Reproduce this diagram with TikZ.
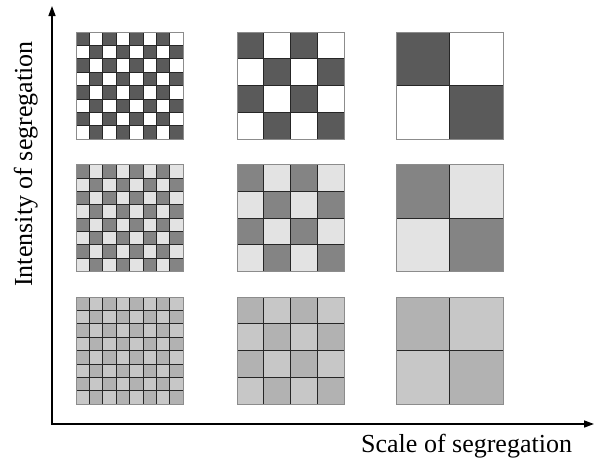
\documentclass[tikz,border=0pt]{standalone}
\usepackage{fontspec}
\setmainfont{Liberation Serif}
\usetikzlibrary{arrows.meta}
\definecolor{darkA}{HTML}{5A5A5A}
\definecolor{lightA}{HTML}{FFFFFF}
\definecolor{darkB}{HTML}{848484}
\definecolor{lightB}{HTML}{E3E3E3}
\definecolor{darkC}{HTML}{B2B2B2}
\definecolor{lightC}{HTML}{C7C7C7}
\tikzset{
  cellline/.style={line width=0.7pt, black!85},
  outline/.style={line width=1pt, black!45},
  axis/.style={line width=1.4pt, -{Triangle[length=10pt,width=7pt]}},
  axislabel/.style={font=\fontsize{26}{30}\selectfont, inner sep=0pt}
}
\newcommand\segrid[5]{%
  \begin{scope}[shift={(#1,#2)}]
    \pgfmathsetmacro\cellsz{107/#3}
    \pgfmathtruncatemacro\nminus{#3-1}
    \fill[#5] (0,0) rectangle (107,107);
    \foreach \i in {1,...,#3}{%
      \foreach \j in {1,...,#3}{%
        \pgfmathtruncatemacro\parity{mod(\i+\j,2)}
        \ifnum\parity=0
          \fill[#4] ({(\i-1)*\cellsz},{(\j-1)*\cellsz}) rectangle ({\i*\cellsz},{\j*\cellsz});
        \fi
      }}
    \foreach \k in {1,...,\nminus}{%
      \draw[cellline] ({\k*\cellsz},0) -- ({\k*\cellsz},107);
      \draw[cellline] (0,{\k*\cellsz}) -- (107,{\k*\cellsz});
    }
    \draw[outline] (0,0) rectangle (107,107);
  \end{scope}}
\begin{document}
\begin{tikzpicture}[x=1pt,y=-1pt]
\useasboundingbox (0,0) rectangle (594,459);
% grids
\segrid{76}{32}{8}{darkA}{lightA}
\segrid{237}{32}{4}{darkA}{lightA}
\segrid{396}{32}{2}{darkA}{lightA}
\segrid{76}{164.5}{8}{darkB}{lightB}
\segrid{237}{164.5}{4}{darkB}{lightB}
\segrid{396}{164.5}{2}{darkB}{lightB}
\segrid{76}{297}{8}{darkC}{lightC}
\segrid{237}{297}{4}{darkC}{lightC}
\segrid{396}{297}{2}{darkC}{lightC}
% axes
\coordinate (O) at (52,424);
\coordinate (ytip) at (52,6);
\coordinate (xtip) at (594,424);
\draw[axis] (O.center) ++(0,0.7) -- (ytip);
\draw[axis] ([xshift=-0.7pt]O) -- (xtip);
\node[axislabel, anchor=base west] (xlabel) at (361,452) {Scale of segregation};
\node[axislabel, anchor=base, rotate=90] (ylabel) at (32,164) {Intensity of segregation};
\end{tikzpicture}
\end{document}
